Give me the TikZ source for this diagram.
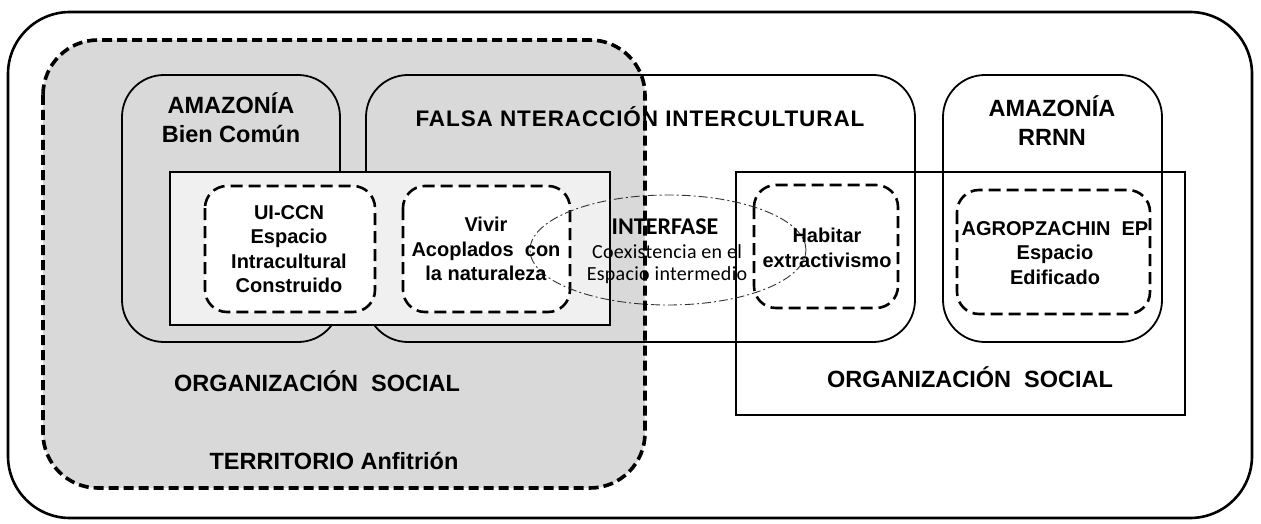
\documentclass[tikz,border=0pt]{standalone}
\usepackage{fontspec}
\setmainfont{Liberation Sans}
\newfontfamily\calfont{Carlito}
\newfontfamily\spacedfont[LetterSpace=4]{Liberation Sans}
\newfontfamily\calspaced[LetterSpace=1.5]{Carlito}
\begin{document}
\begin{tikzpicture}[x=1pt,y=-1pt,
  roundbox/.style={draw=black,line width=1.8pt,rounded corners=42pt},
  dashbox/.style={draw=black,line width=2.6pt,dash pattern=on 12pt off 6pt,rounded corners=22pt,fill=white},
  lbl/.style={font=\fontsize{23.5}{29}\selectfont\bfseries,inner sep=0pt,align=center},
  inlbl/.style={font=\fontsize{20}{24.5}\selectfont\bfseries,inner sep=0pt,align=center},
]
\useasboundingbox (0,0) rectangle (1261,524);
\fill[white] (0,0) rectangle (1261,524);
% outer frame
\draw[line width=2.6pt,rounded corners=62pt] (8,12) rectangle (1252,518);
% territorio (grey fill)
\fill[gray!30,rounded corners=55pt] (43,40) rectangle (645,488);
% round boxes
\draw[roundbox] (122,75) rectangle (340,342);
\draw[roundbox] (366,75) rectangle (915,342);
\draw[roundbox] (943,75) rectangle (1162,342);
% inner light rectangle
\draw[line width=2pt,fill=black!6] (170,172) rectangle (610,325);
% right rectangle
\draw[line width=1.8pt] (736,172) rectangle (1185,415);
% dashed boxes
\draw[dashbox] (205,186) rectangle (375,312);
\draw[dashbox] (403,186) rectangle (570,312);
\draw[dashbox] (754,185) rectangle (898,308);
\draw[dashbox] (957,190) rectangle (1150,314);
% interfase ellipse
\draw[line width=0.9pt,dash pattern=on 9pt off 3pt on 2pt off 3pt,black!80] (668,250) ellipse [x radius=138pt,y radius=55pt];
% territorio border
\draw[line width=3.6pt,dash pattern=on 10pt off 5pt,rounded corners=55pt] (43,40) rectangle (645,488);
% labels
\node[lbl] (amz1) at (231,118) {AMAZONÍA\\Bien Común};
\node[font=\spacedfont\fontsize{22.5}{27}\selectfont\bfseries,inner sep=0pt] (falsa) at (640,117) {FALSA NTERACCIÓN INTERCULTURAL};
\node[lbl] (amz2) at (1052,121) {AMAZONÍA\\RRNN};
\node[inlbl] (uiccn) at (289,249) {UI-CCN\\Espacio\\Intracultural\\Construido};
\node[inlbl] (vivir) at (486,249) {Vivir\\Acoplados\ \ con\\la naturaleza};
\node[font=\calfont\fontsize{24}{27}\selectfont\bfseries,inner sep=0pt] (interf) at (665,227) {INTERFASE};
\node[font=\calspaced\fontsize{20}{22.5}\selectfont,inner sep=0pt,align=center] (coex) at (667,264) {Coexistencia en el\\Espacio intermedio};
\node[inlbl] (habitar) at (827,248) {Habitar\\extractivismo};
\node[inlbl] (agro) at (1055,253) {AGROPZACHIN\ \ EP\\Espacio\\Edificado};
\node[lbl] (org1) at (317,381) {ORGANIZACIÓN\ \ SOCIAL};
\node[lbl] (org2) at (970,377) {ORGANIZACIÓN\ \ SOCIAL};
\node[lbl] (terr) at (334,461) {TERRITORIO Anfitrión};
\end{tikzpicture}
\end{document}
